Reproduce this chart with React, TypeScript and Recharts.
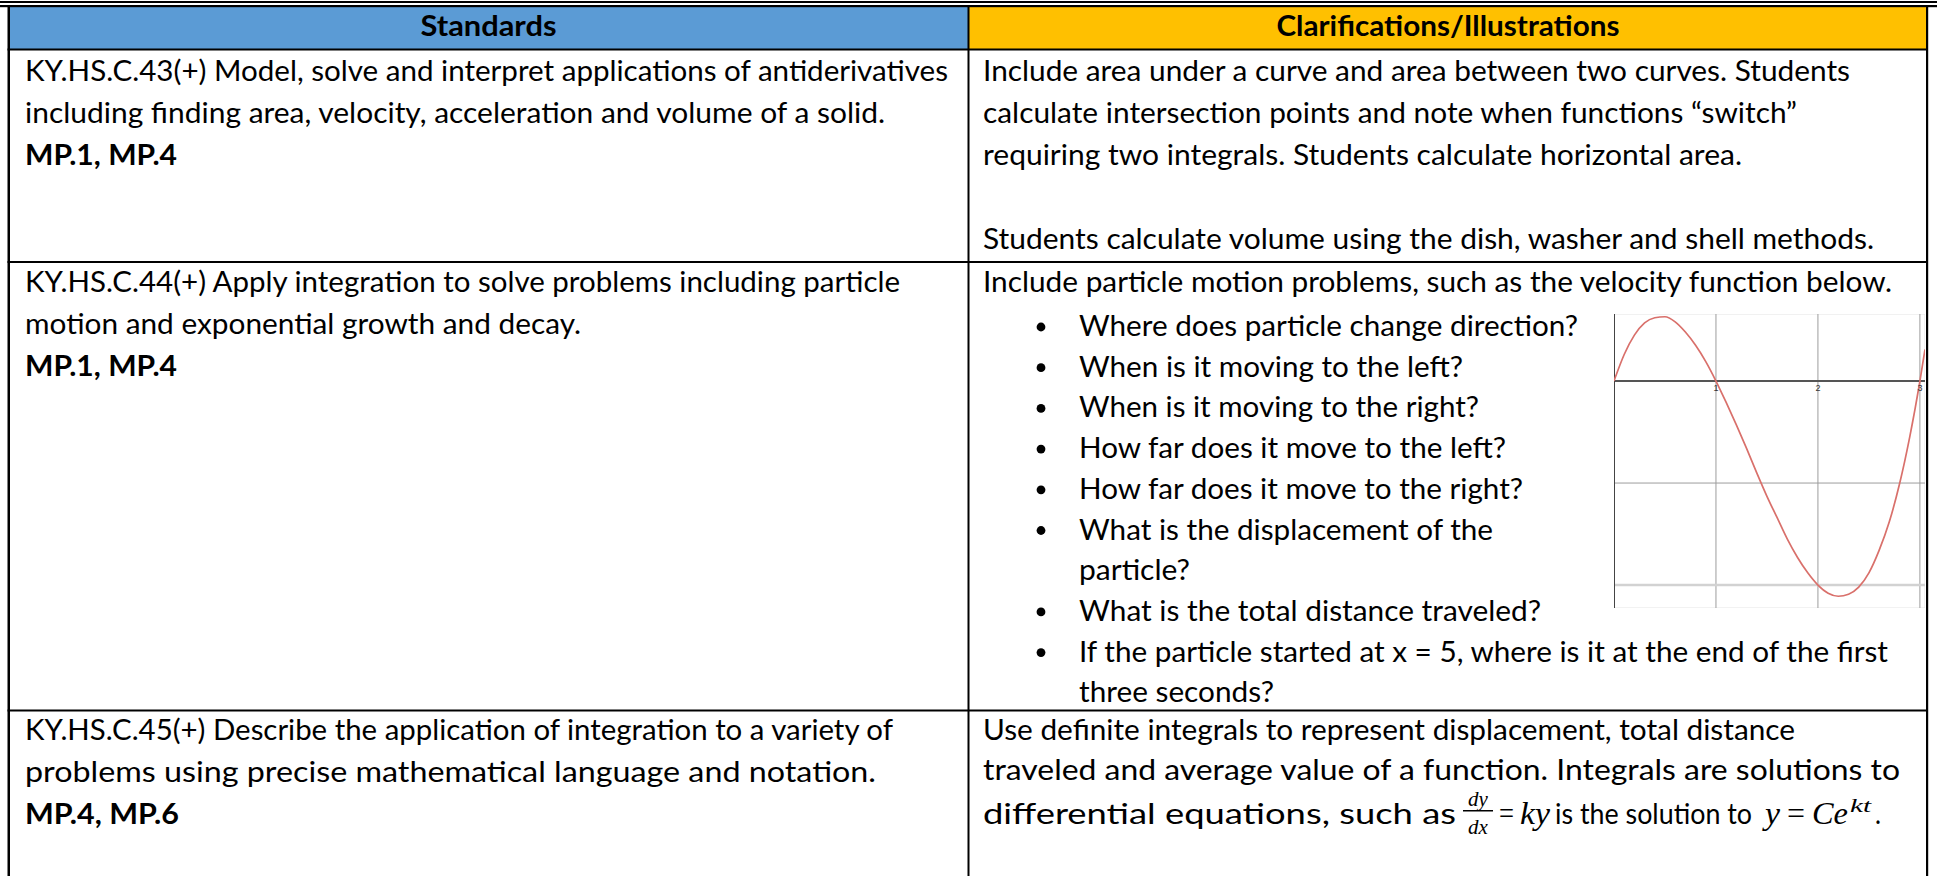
import React from 'react'
import { LineChart, Line, XAxis, YAxis, CartesianGrid, ReferenceLine, ReferenceDot } from 'recharts'

// velocity graph, values
const times = [0, 0.1, 0.2, 0.3, 0.4, 0.5, 0.6, 0.7, 0.8, 0.9, 1, 1.1, 1.2, 1.3, 1.4, 1.5, 1.6, 1.7, 1.8, 1.9, 2, 2.1, 2.2, 2.3, 2.4, 2.5, 2.6, 2.7, 2.8, 2.9, 3, 3.05]
const velocity = [0, 0.26, 0.45, 0.57, 0.62, 0.63, 0.58, 0.48, 0.35, 0.19, 0, -0.21, -0.43, -0.66, -0.9, -1.13, -1.34, -1.55, -1.73, -1.88, -2.0, -2.08, -2.11, -2.09, -2.02, -1.88, -1.66, -1.38, -1.01, -0.55, 0, 0.31]
const minorX = [0.2, 0.4, 0.6, 0.8, 1.2, 1.4, 1.6, 1.8, 2.2, 2.4, 2.6, 2.8]
const minorY = [-2.2, -1.8, -1.6, -1.4, -1.2, -0.8, -0.6, -0.4, -0.2, 0.2, 0.4, 0.6]
const majorX = [1, 2, 3]
const tickLabels = ['1', '2', '3']

// table text
const headers = ['Standards', 'Clarifications/Illustrations']
const standards = [
  ['KY.HS.C.43(+) Model, solve and interpret applications of antiderivatives', 'including finding area, velocity, acceleration and volume of a solid.', 'MP.1, MP.4'],
  ['KY.HS.C.44(+) Apply integration to solve problems including particle', 'motion and exponential growth and decay.', 'MP.1, MP.4'],
  ['KY.HS.C.45(+) Describe the application of integration to a variety of', 'problems using precise mathematical language and notation.', 'MP.4, MP.6'],
]
const clarif1 = [
  'Include area under a curve and area between two curves. Students',
  'calculate intersection points and note when functions \u201cswitch\u201d',
  'requiring two integrals. Students calculate horizontal area.',
  '',
  'Students calculate volume using the dish, washer and shell methods.',
]
const clarif2 = 'Include particle motion problems, such as the velocity function below.'
const bullets = [
  ['Where does particle change direction?'],
  ['When is it moving to the left?'],
  ['When is it moving to the right?'],
  ['How far does it move to the left?'],
  ['How far does it move to the right?'],
  ['What is the displacement of the', 'particle?'],
  ['What is the total distance traveled?'],
  ['If the particle started at x = 5, where is it at the end of the first', 'three seconds?'],
]
const clarif3 = [
  'Use definite integrals to represent displacement, total distance',
  'traveled and average value of a function. Integrals are solutions to',
]

// measured line ends (px) for the table text
const standardsEnds = [[948, 885, 177], [900, 581, 177], [893, 876, 179]]
const clarif1Ends = [1850, 1797, 1742, 0, 1874]
const bulletEnds = [1578, 1463, 1479, 1506, 1523, 1493, 1190, 1541, 1888, 1274]
const clarif3Ends = [1795, 1900]

const FONT = 'Lato, Calibri, "Open Sans", sans-serif'
const MATH = '"Liberation Serif", "DejaVu Serif", serif'

const Txt = ({ x, y, w, bold, anchor, children }: any) => (
  <text
    x={x}
    y={y}
    textLength={w}
    lengthAdjust="spacingAndGlyphs"
    fontFamily={FONT}
    fontSize={29}
    fontWeight={bold ? 700 : 400}
    textAnchor={anchor || 'start'}
    fill="#000"
  >
    {children}
  </text>
)

const Graph = () => {
  const data = times.map((t, i) => ({ t, v: velocity[i] }))
  return (
    <LineChart width={311} height={294} data={data} margin={{ top: 0, right: 0, bottom: 0, left: 0 }}>
      <CartesianGrid stroke="#e4e4e4" strokeWidth={1} />
      <XAxis
        type="number"
        dataKey="t"
        domain={[0, 3.05]}
        ticks={minorX}
        tick={false}
        axisLine={false}
        tickLine={false}
        height={0}
        allowDataOverflow
      />
      <YAxis
        type="number"
        domain={[-2.225, 0.657]}
        ticks={minorY}
        tick={false}
        axisLine={false}
        tickLine={false}
        width={0}
        allowDataOverflow
      />
      {majorX.map((x) => (
        <ReferenceLine key={'mx' + x} x={x} stroke="#9c9c9c" strokeWidth={1} />
      ))}
      <ReferenceLine y={-1} stroke="#9c9c9c" strokeWidth={1} />
      <ReferenceLine y={-2} stroke="#d2d2d2" strokeWidth={2.5} />
      <ReferenceLine y={0} stroke="#555" strokeWidth={2} />
      <ReferenceLine x={0} stroke="#444" strokeWidth={2} />
      {tickLabels.map((l, i) => (
        <ReferenceDot
          key={'tl' + l}
          x={majorX[i]}
          y={0}
          r={0}
          stroke="none"
          label={{ value: l, position: 'bottom', offset: 4, fontSize: 9, fill: '#333', fontFamily: 'Liberation Sans, Arial, sans-serif' }}
        />
      ))}
      <Line type="monotone" dataKey="v" stroke="#d9706b" strokeWidth={1.7} dot={false} isAnimationActive={false} />
    </LineChart>
  )
}

export default function App() {
  const rowTops = [81, 292, 740]
  const lh = 42
  const bulletY = (i: number) => 336 + 40.7 * i
  let bi = 0
  const bulletLines: any[] = []
  bullets.forEach((b) => {
    b.forEach((line, j) => {
      const y = bulletY(bi)
      bulletLines.push(
        <g key={'b' + bi}>
          {j === 0 && <circle cx={1041} cy={y - 9} r={4.4} fill="#000" />}
          <Txt x={1079} y={y} w={bulletEnds[bi] - 1079}>
            {line}
          </Txt>
        </g>
      )
      bi++
    })
  })

  return (
    <div style={{ position: 'absolute', left: 0, top: 0, width: 1937, height: 876, background: '#fff', overflow: 'hidden' }}>
      <svg width={1937} height={876} style={{ position: 'absolute', left: 0, top: 0 }}>
        <rect x={10} y={7} width={958} height={42} fill="#5B9BD5" />
        <rect x={969} y={7} width={957} height={42} fill="#FFC000" />
        {/* double top rule */}
        <rect x={0} y={1} width={1937} height={2} fill="#000" />
        <rect x={0} y={5} width={1937} height={2.2} fill="#000" />
        {/* outer and inner borders */}
        <rect x={7.5} y={5} width={2.5} height={871} fill="#000" />
        <rect x={1926} y={5} width={2.2} height={871} fill="#000" />
        <rect x={967.5} y={5} width={2} height={871} fill="#000" />
        <rect x={7.5} y={48.5} width={1920.5} height={2} fill="#000" />
        <rect x={7.5} y={261} width={1920.5} height={2} fill="#000" />
        <rect x={7.5} y={709.5} width={1920.5} height={2} fill="#000" />

        <Txt x={488.5} y={36} w={136} bold anchor="middle">
          {headers[0]}
        </Txt>
        <Txt x={1448} y={36} w={343} bold anchor="middle">
          {headers[1]}
        </Txt>

        {standards.map((rows, r) =>
          rows.map((line, j) => (
            <Txt key={'s' + r + j} x={25} y={rowTops[r] + lh * j} w={standardsEnds[r][j] - 25} bold={j === 2}>
              {line}
            </Txt>
          ))
        )}

        {clarif1.map((line, j) =>
          line ? (
            <Txt key={'c1' + j} x={983} y={81 + lh * j} w={clarif1Ends[j] - 983}>
              {line}
            </Txt>
          ) : null
        )}

        <Txt x={983} y={292} w={1892 - 983}>
          {clarif2}
        </Txt>
        {bulletLines}

        <Txt x={983} y={740} w={clarif3Ends[0] - 983}>
          {clarif3[0]}
        </Txt>
        <Txt x={983} y={780} w={clarif3Ends[1] - 983}>
          {clarif3[1]}
        </Txt>

        {/* third line with the differential equation */}
        <Txt x={983} y={824} w={1456 - 983}>
          differential equations, such as
        </Txt>
        <text x={1478} y={806} fontFamily={MATH} fontStyle="italic" fontSize={21} textAnchor="middle" fill="#000">
          dy
        </text>
        <rect x={1463} y={810} width={30} height={1.5} fill="#000" />
        <text x={1478} y={834} fontFamily={MATH} fontStyle="italic" fontSize={21} textAnchor="middle" fill="#000">
          dx
        </text>
        <text x={1499} y={824} fontFamily={MATH} fontSize={31} fill="#000" textLength={15} lengthAdjust="spacingAndGlyphs">
          =
        </text>
        <text x={1520} y={824} fontFamily={MATH} fontStyle="italic" fontSize={31} fill="#000" textLength={30} lengthAdjust="spacingAndGlyphs">
          ky
        </text>
        <Txt x={1555} y={824} w={197}>
          is the solution to
        </Txt>
        <text x={1765} y={824} fontFamily={MATH} fontStyle="italic" fontSize={31} fill="#000" textLength={15} lengthAdjust="spacingAndGlyphs">
          y
        </text>
        <text x={1787} y={824} fontFamily={MATH} fontSize={31} fill="#000" textLength={18} lengthAdjust="spacingAndGlyphs">
          =
        </text>
        <text x={1812} y={824} fontFamily={MATH} fontStyle="italic" fontSize={31} fill="#000" textLength={36} lengthAdjust="spacingAndGlyphs">
          Ce
        </text>
        <text x={1850} y={812} fontFamily={MATH} fontStyle="italic" fontSize={19} fill="#000" textLength={21} lengthAdjust="spacingAndGlyphs">
          kt
        </text>
        <Txt x={1875} y={824} w={6}>
          .
        </Txt>
      </svg>
      <div style={{ position: 'absolute', left: 1614, top: 314, width: 311, height: 294 }}>
        <Graph />
      </div>
    </div>
  )
}
